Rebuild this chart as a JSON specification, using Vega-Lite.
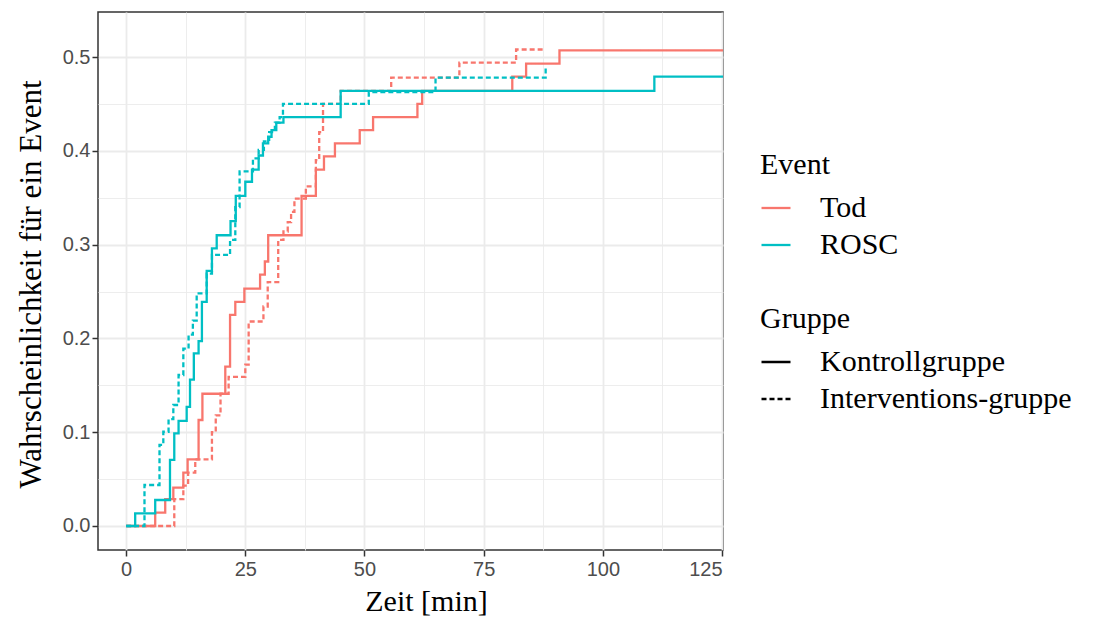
{
  "$schema": "https://vega.github.io/schema/vega-lite/v6.json",
  "width": 625,
  "height": 538,
  "autosize": {"type": "none"},
  "padding": {"left": 98, "top": 12, "right": 370, "bottom": 70},
  "background": "white",
  "config": {
    "view": {"stroke": "#333333", "strokeWidth": 1.5},
    "axis": {
      "domain": false,
      "grid": true,
      "gridColor": "#EBEBEB",
      "tickColor": "#333333",
      "tickWidth": 1.5,
      "tickSize": 6,
      "labelFont": "Liberation Sans",
      "labelFontSize": 20,
      "labelColor": "#4D4D4D",
      "titleFont": "Liberation Serif",
      "titleFontSize": 31,
      "titleFontWeight": "normal",
      "titleColor": "black"
    }
  },
  "data": {
    "values": [
      {"event": "Tod", "group": "Kontrollgruppe", "t": 0, "p": 0},
      {"event": "Tod", "group": "Kontrollgruppe", "t": 6.1, "p": 0.0143},
      {"event": "Tod", "group": "Kontrollgruppe", "t": 8.2, "p": 0.0286},
      {"event": "Tod", "group": "Kontrollgruppe", "t": 9.9, "p": 0.041},
      {"event": "Tod", "group": "Kontrollgruppe", "t": 12, "p": 0.057},
      {"event": "Tod", "group": "Kontrollgruppe", "t": 12.9, "p": 0.071},
      {"event": "Tod", "group": "Kontrollgruppe", "t": 15.2, "p": 0.113},
      {"event": "Tod", "group": "Kontrollgruppe", "t": 16, "p": 0.141},
      {"event": "Tod", "group": "Kontrollgruppe", "t": 20.8, "p": 0.17},
      {"event": "Tod", "group": "Kontrollgruppe", "t": 21.8, "p": 0.225},
      {"event": "Tod", "group": "Kontrollgruppe", "t": 22.9, "p": 0.239},
      {"event": "Tod", "group": "Kontrollgruppe", "t": 24.8, "p": 0.253},
      {"event": "Tod", "group": "Kontrollgruppe", "t": 28.1, "p": 0.268},
      {"event": "Tod", "group": "Kontrollgruppe", "t": 29.1, "p": 0.282},
      {"event": "Tod", "group": "Kontrollgruppe", "t": 29.8, "p": 0.31},
      {"event": "Tod", "group": "Kontrollgruppe", "t": 36.8, "p": 0.352},
      {"event": "Tod", "group": "Kontrollgruppe", "t": 39.8, "p": 0.38},
      {"event": "Tod", "group": "Kontrollgruppe", "t": 41.5, "p": 0.394},
      {"event": "Tod", "group": "Kontrollgruppe", "t": 43.8, "p": 0.408},
      {"event": "Tod", "group": "Kontrollgruppe", "t": 49, "p": 0.422},
      {"event": "Tod", "group": "Kontrollgruppe", "t": 51.8, "p": 0.436},
      {"event": "Tod", "group": "Kontrollgruppe", "t": 61.1, "p": 0.45},
      {"event": "Tod", "group": "Kontrollgruppe", "t": 62.1, "p": 0.464},
      {"event": "Tod", "group": "Kontrollgruppe", "t": 81, "p": 0.479},
      {"event": "Tod", "group": "Kontrollgruppe", "t": 83.9, "p": 0.493},
      {"event": "Tod", "group": "Kontrollgruppe", "t": 90.9, "p": 0.507},
      {"event": "Tod", "group": "Kontrollgruppe", "t": 130, "p": 0.507},

      {"event": "Tod", "group": "Interventions-gruppe", "t": 0, "p": 0},
      {"event": "Tod", "group": "Interventions-gruppe", "t": 10.1, "p": 0.0286},
      {"event": "Tod", "group": "Interventions-gruppe", "t": 12, "p": 0.043},
      {"event": "Tod", "group": "Interventions-gruppe", "t": 13, "p": 0.057},
      {"event": "Tod", "group": "Interventions-gruppe", "t": 14.5, "p": 0.071},
      {"event": "Tod", "group": "Interventions-gruppe", "t": 18, "p": 0.1},
      {"event": "Tod", "group": "Interventions-gruppe", "t": 18.8, "p": 0.118},
      {"event": "Tod", "group": "Interventions-gruppe", "t": 19.8, "p": 0.141},
      {"event": "Tod", "group": "Interventions-gruppe", "t": 21.5, "p": 0.159},
      {"event": "Tod", "group": "Interventions-gruppe", "t": 25, "p": 0.172},
      {"event": "Tod", "group": "Interventions-gruppe", "t": 25.7, "p": 0.218},
      {"event": "Tod", "group": "Interventions-gruppe", "t": 28.8, "p": 0.234},
      {"event": "Tod", "group": "Interventions-gruppe", "t": 29.7, "p": 0.26},
      {"event": "Tod", "group": "Interventions-gruppe", "t": 31.9, "p": 0.305},
      {"event": "Tod", "group": "Interventions-gruppe", "t": 33, "p": 0.314},
      {"event": "Tod", "group": "Interventions-gruppe", "t": 33.9, "p": 0.324},
      {"event": "Tod", "group": "Interventions-gruppe", "t": 34.6, "p": 0.335},
      {"event": "Tod", "group": "Interventions-gruppe", "t": 35.3, "p": 0.349},
      {"event": "Tod", "group": "Interventions-gruppe", "t": 37.7, "p": 0.362},
      {"event": "Tod", "group": "Interventions-gruppe", "t": 39.8, "p": 0.39},
      {"event": "Tod", "group": "Interventions-gruppe", "t": 40.5, "p": 0.42},
      {"event": "Tod", "group": "Interventions-gruppe", "t": 41.3, "p": 0.45},
      {"event": "Tod", "group": "Interventions-gruppe", "t": 45, "p": 0.464},
      {"event": "Tod", "group": "Interventions-gruppe", "t": 55.6, "p": 0.478},
      {"event": "Tod", "group": "Interventions-gruppe", "t": 69.9, "p": 0.494},
      {"event": "Tod", "group": "Interventions-gruppe", "t": 81.8, "p": 0.508},
      {"event": "Tod", "group": "Interventions-gruppe", "t": 88, "p": 0.508},

      {"event": "ROSC", "group": "Kontrollgruppe", "t": 0, "p": 0},
      {"event": "ROSC", "group": "Kontrollgruppe", "t": 1.9, "p": 0.0135},
      {"event": "ROSC", "group": "Kontrollgruppe", "t": 6.1, "p": 0.0277},
      {"event": "ROSC", "group": "Kontrollgruppe", "t": 9.2, "p": 0.0704},
      {"event": "ROSC", "group": "Kontrollgruppe", "t": 10.1, "p": 0.0988},
      {"event": "ROSC", "group": "Kontrollgruppe", "t": 11, "p": 0.112},
      {"event": "ROSC", "group": "Kontrollgruppe", "t": 12.7, "p": 0.127},
      {"event": "ROSC", "group": "Kontrollgruppe", "t": 13.4, "p": 0.156},
      {"event": "ROSC", "group": "Kontrollgruppe", "t": 14.2, "p": 0.184},
      {"event": "ROSC", "group": "Kontrollgruppe", "t": 15.2, "p": 0.197},
      {"event": "ROSC", "group": "Kontrollgruppe", "t": 15.9, "p": 0.239},
      {"event": "ROSC", "group": "Kontrollgruppe", "t": 16.9, "p": 0.272},
      {"event": "ROSC", "group": "Kontrollgruppe", "t": 18, "p": 0.296},
      {"event": "ROSC", "group": "Kontrollgruppe", "t": 19, "p": 0.31},
      {"event": "ROSC", "group": "Kontrollgruppe", "t": 21.9, "p": 0.325},
      {"event": "ROSC", "group": "Kontrollgruppe", "t": 23, "p": 0.352},
      {"event": "ROSC", "group": "Kontrollgruppe", "t": 25, "p": 0.367},
      {"event": "ROSC", "group": "Kontrollgruppe", "t": 26.4, "p": 0.38},
      {"event": "ROSC", "group": "Kontrollgruppe", "t": 27.8, "p": 0.395},
      {"event": "ROSC", "group": "Kontrollgruppe", "t": 28.7, "p": 0.408},
      {"event": "ROSC", "group": "Kontrollgruppe", "t": 29.8, "p": 0.415},
      {"event": "ROSC", "group": "Kontrollgruppe", "t": 30.5, "p": 0.422},
      {"event": "ROSC", "group": "Kontrollgruppe", "t": 31.5, "p": 0.43},
      {"event": "ROSC", "group": "Kontrollgruppe", "t": 33, "p": 0.436},
      {"event": "ROSC", "group": "Kontrollgruppe", "t": 45, "p": 0.464},
      {"event": "ROSC", "group": "Kontrollgruppe", "t": 110.8, "p": 0.479},
      {"event": "ROSC", "group": "Kontrollgruppe", "t": 130, "p": 0.479},

      {"event": "ROSC", "group": "Interventions-gruppe", "t": 0, "p": 0},
      {"event": "ROSC", "group": "Interventions-gruppe", "t": 3.85, "p": 0.0437},
      {"event": "ROSC", "group": "Interventions-gruppe", "t": 7, "p": 0.0864},
      {"event": "ROSC", "group": "Interventions-gruppe", "t": 7.8, "p": 0.1005},
      {"event": "ROSC", "group": "Interventions-gruppe", "t": 8.9, "p": 0.114},
      {"event": "ROSC", "group": "Interventions-gruppe", "t": 9.9, "p": 0.129},
      {"event": "ROSC", "group": "Interventions-gruppe", "t": 11, "p": 0.161},
      {"event": "ROSC", "group": "Interventions-gruppe", "t": 12, "p": 0.189},
      {"event": "ROSC", "group": "Interventions-gruppe", "t": 13.1, "p": 0.204},
      {"event": "ROSC", "group": "Interventions-gruppe", "t": 14, "p": 0.219},
      {"event": "ROSC", "group": "Interventions-gruppe", "t": 14.8, "p": 0.248},
      {"event": "ROSC", "group": "Interventions-gruppe", "t": 16.9, "p": 0.269},
      {"event": "ROSC", "group": "Interventions-gruppe", "t": 18, "p": 0.289},
      {"event": "ROSC", "group": "Interventions-gruppe", "t": 21.8, "p": 0.305},
      {"event": "ROSC", "group": "Interventions-gruppe", "t": 22.9, "p": 0.34},
      {"event": "ROSC", "group": "Interventions-gruppe", "t": 23.8, "p": 0.378},
      {"event": "ROSC", "group": "Interventions-gruppe", "t": 26.6, "p": 0.392},
      {"event": "ROSC", "group": "Interventions-gruppe", "t": 27.8, "p": 0.401},
      {"event": "ROSC", "group": "Interventions-gruppe", "t": 28.9, "p": 0.41},
      {"event": "ROSC", "group": "Interventions-gruppe", "t": 30, "p": 0.42},
      {"event": "ROSC", "group": "Interventions-gruppe", "t": 31.2, "p": 0.43},
      {"event": "ROSC", "group": "Interventions-gruppe", "t": 32.2, "p": 0.436},
      {"event": "ROSC", "group": "Interventions-gruppe", "t": 32.9, "p": 0.45},
      {"event": "ROSC", "group": "Interventions-gruppe", "t": 50.9, "p": 0.4625},
      {"event": "ROSC", "group": "Interventions-gruppe", "t": 64.9, "p": 0.478},
      {"event": "ROSC", "group": "Interventions-gruppe", "t": 88, "p": 0.49}
    ]
  },
  "mark": {"type": "line", "interpolate": "step-after", "strokeWidth": 2.3, "clip": true},
  "encoding": {
    "x": {
      "field": "t",
      "type": "quantitative",
      "scale": {"domain": [-5.9, 125.2], "nice": false, "zero": false},
      "axis": {
        "title": "Zeit [min]",
        "values": [0, 12.5, 25, 37.5, 50, 62.5, 75, 87.5, 100, 112.5, 125],
        "format": "d",
        "labelExpr": "datum.value % 25 === 0 ? datum.label : ''",
        "labelPadding": 3,
        "gridWidth": {"condition": {"test": "datum.value % 25 === 0", "value": 1.8}, "value": 0.9},
        "tickOpacity": {"condition": {"test": "datum.value % 25 === 0", "value": 1}, "value": 0},
        "titleX": 328,
        "titleY": 60,
        "titleFontSize": 30,
        "titleAlign": "center",
        "titleBaseline": "alphabetic"
      }
    },
    "y": {
      "field": "p",
      "type": "quantitative",
      "scale": {"domain": [-0.0256, 0.548], "nice": false, "zero": false},
      "axis": {
        "title": "Wahrscheinlichkeit für ein Event",
        "values": [0, 0.05, 0.1, 0.15, 0.2, 0.25, 0.3, 0.35, 0.4, 0.45, 0.5],
        "format": ".1f",
        "labelExpr": "round(datum.value * 100) % 10 === 0 ? datum.label : ''",
        "labelPadding": 2,
        "gridWidth": {"condition": {"test": "round(datum.value * 100) % 10 === 0", "value": 1.8}, "value": 0.9},
        "tickOpacity": {"condition": {"test": "round(datum.value * 100) % 10 === 0", "value": 1}, "value": 0},
        "titleAngle": -90,
        "titleX": -58,
        "titleY": 272,
        "titleAlign": "center",
        "titleBaseline": "alphabetic"
      }
    },
    "color": {
      "field": "event",
      "type": "nominal",
      "scale": {"domain": ["Tod", "ROSC"], "range": ["#F8766D", "#00BFC4"]},
      "legend": {
        "title": "Event",
        "orient": "none",
        "legendX": 662,
        "legendY": 138,
        "padding": 0,
        "titleFont": "Liberation Serif",
        "titleFontSize": 30,
        "titleFontWeight": "normal",
        "titleColor": "black",
        "titlePadding": 12,
        "labelFont": "Liberation Serif",
        "labelFontSize": 30,
        "labelColor": "black",
        "labelLimit": 0,
        "labelOffset": 28,
        "rowPadding": 6,
        "symbolType": "stroke",
        "symbolSize": 841,
        "symbolStrokeWidth": 2.3
      }
    },
    "strokeDash": {
      "field": "group",
      "type": "nominal",
      "scale": {"domain": ["Kontrollgruppe", "Interventions-gruppe"], "range": [[1, 0], [5, 3]]},
      "legend": {
        "title": "Gruppe",
        "orient": "none",
        "legendX": 662,
        "legendY": 292,
        "padding": 0,
        "titleFont": "Liberation Serif",
        "titleFontSize": 30,
        "titleFontWeight": "normal",
        "titleColor": "black",
        "titlePadding": 12,
        "labelFont": "Liberation Serif",
        "labelFontSize": 30,
        "labelColor": "black",
        "labelLimit": 0,
        "labelOffset": 28,
        "rowPadding": 6,
        "symbolType": "stroke",
        "symbolSize": 841,
        "symbolStrokeWidth": 2.3,
        "symbolStrokeColor": "black"
      }
    }
  }
}
